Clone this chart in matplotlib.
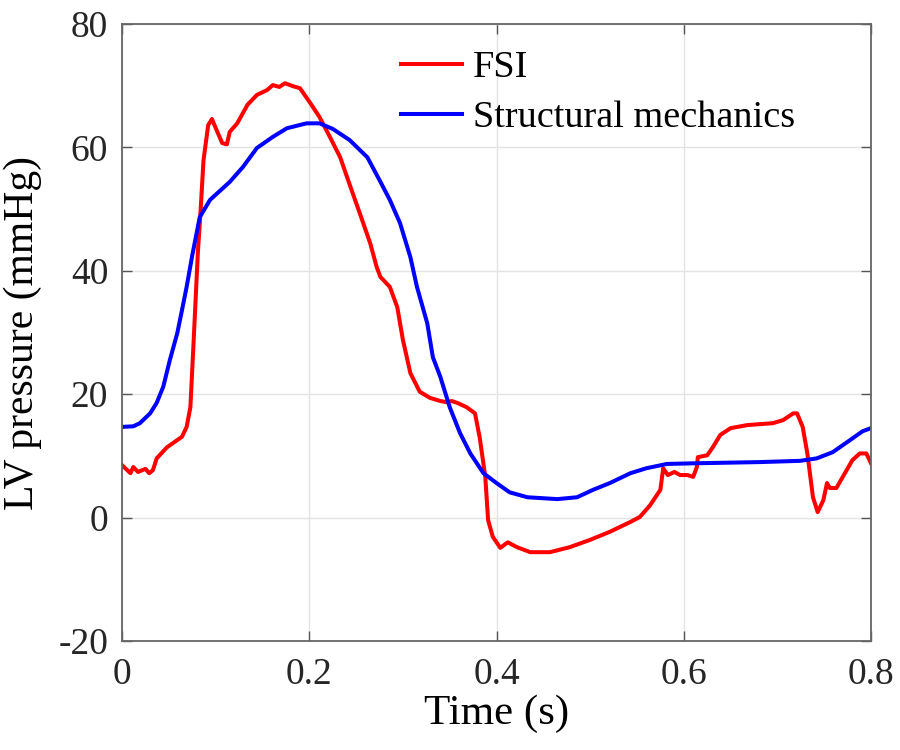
import numpy as np
import matplotlib
matplotlib.use('Agg')
import matplotlib.pyplot as plt

plt.rcParams['font.family'] = ['Liberation Serif', 'DejaVu Serif']
plt.rcParams['axes.unicode_minus'] = False

# FSI curve (time in s, pressure in mmHg)
t_fsi = [0.000, 0.009, 0.012, 0.017, 0.025, 0.029, 0.033, 0.037, 0.048, 0.064,
         0.069, 0.073, 0.076, 0.081, 0.084, 0.087, 0.092, 0.096, 0.101, 0.107,
         0.112, 0.115, 0.123, 0.134, 0.144, 0.155, 0.161, 0.168, 0.174, 0.183,
         0.190, 0.201, 0.211, 0.222, 0.233, 0.244, 0.254, 0.265, 0.272, 0.276,
         0.286, 0.294, 0.300, 0.308, 0.318, 0.329, 0.340, 0.347, 0.352, 0.358,
         0.368, 0.377, 0.382, 0.388, 0.391, 0.396, 0.404, 0.412, 0.422, 0.436,
         0.457, 0.478, 0.500, 0.521, 0.543, 0.553, 0.564, 0.575, 0.578, 0.583,
         0.590, 0.596, 0.604, 0.610, 0.614, 0.615, 0.625, 0.631, 0.639, 0.650,
         0.668, 0.695, 0.706, 0.717, 0.721, 0.727, 0.732, 0.738, 0.743, 0.749,
         0.753, 0.756, 0.763, 0.774, 0.780, 0.788, 0.795, 0.800]
p_fsi = [8.5, 7.2, 8.2, 7.4, 7.9, 7.2, 7.7, 9.6, 11.4, 13.1,
         14.7, 17.9, 27.1, 43.0, 50.0, 57.9, 63.6, 64.6, 62.8, 60.7,
         60.5, 62.5, 63.9, 66.9, 68.5, 69.3, 70.1, 69.8, 70.4, 69.9,
         69.6, 67.2, 64.9, 61.7, 58.4, 53.6, 49.3, 44.5, 40.6, 39.0,
         37.4, 34.1, 28.8, 23.4, 20.4, 19.4, 18.9, 18.7, 18.9, 18.6,
         17.9, 16.9, 13.0, 6.6, -0.4, -3.1, -4.9, -4.0, -4.8, -5.6,
         -5.6, -4.8, -3.6, -2.3, -0.7, 0.1, 2.0, 4.5, 8.0, 6.9,
         7.4, 6.9, 6.9, 6.6, 8.2, 9.8, 10.1, 11.4, 13.4, 14.5,
         15.0, 15.3, 15.8, 16.9, 16.9, 14.7, 10.4, 3.3, 0.9, 2.8,
         5.6, 4.8, 4.8, 7.7, 9.3, 10.4, 10.4, 8.8]

# Structural mechanics curve
t_sm = [0.000, 0.012, 0.019, 0.030, 0.037, 0.044, 0.051, 0.059, 0.064, 0.069,
        0.075, 0.083, 0.094, 0.115, 0.129, 0.144, 0.161, 0.176, 0.197, 0.211,
        0.225, 0.243, 0.262, 0.275, 0.286, 0.297, 0.308, 0.315, 0.326, 0.332,
        0.340, 0.350, 0.361, 0.372, 0.386, 0.400, 0.414, 0.433, 0.465, 0.486,
        0.503, 0.521, 0.543, 0.560, 0.582, 0.610, 0.681, 0.724, 0.742, 0.759,
        0.777, 0.791, 0.800]
p_sm = [14.7, 14.8, 15.3, 16.9, 18.6, 21.2, 25.5, 29.9, 33.6, 37.4,
        42.5, 48.7, 51.5, 54.4, 56.8, 59.9, 61.7, 63.1, 63.9, 63.9,
        63.0, 61.2, 58.4, 54.7, 51.5, 47.7, 42.2, 37.4, 31.5, 26.0,
        22.8, 17.9, 13.7, 10.4, 7.2, 5.6, 4.1, 3.3, 3.0, 3.3,
        4.5, 5.6, 7.2, 8.0, 8.7, 8.8, 9.0, 9.2, 9.6, 10.6,
        12.5, 14.0, 14.5]

xticks = [0, 0.2, 0.4, 0.6, 0.8]
xticklabels = ['0', '0.2', '0.4', '0.6', '0.8']
yticks = [-20, 0, 20, 40, 60, 80]

fig = plt.figure(figsize=(9, 7.5), dpi=100)
ax = fig.add_axes([0.1356, 0.1453, 0.8322, 0.8227])

ax.plot(t_fsi, p_fsi, color='#ff0000', lw=2.9, label='FSI')
ax.plot(t_sm, p_sm, color='#0000ff', lw=2.9, label='Structural mechanics')

ax.set_xlim(0, 0.8)
ax.set_ylim(-20, 80)
ax.set_xticks(xticks)
ax.set_xticklabels(xticklabels)
ax.set_yticks(yticks)
ax.grid(True, color='#e3e3e3', lw=1.0)
ax.set_axisbelow(True)
ax.tick_params(direction='in', length=7, width=1.0, color='#555555',
               top=True, right=True, labelsize=27, labelcolor='#262626')
ax.tick_params(axis='x', pad=12)
ax.tick_params(axis='y', pad=10)
for s in ax.spines.values():
    s.set_color('#666666')
    s.set_linewidth(1.3)

ax.set_xlabel('Time (s)', fontsize=31, labelpad=2)
ax.set_ylabel('LV pressure (mmHg)', fontsize=30, labelpad=12)

ax.legend(loc='upper left', bbox_to_anchor=(0.372, 0.957), frameon=False,
          fontsize=27.5, borderpad=0, borderaxespad=0, handlelength=1.6,
          handletextpad=0.3, labelspacing=0.4)

fig.savefig('out.png', dpi=100)
